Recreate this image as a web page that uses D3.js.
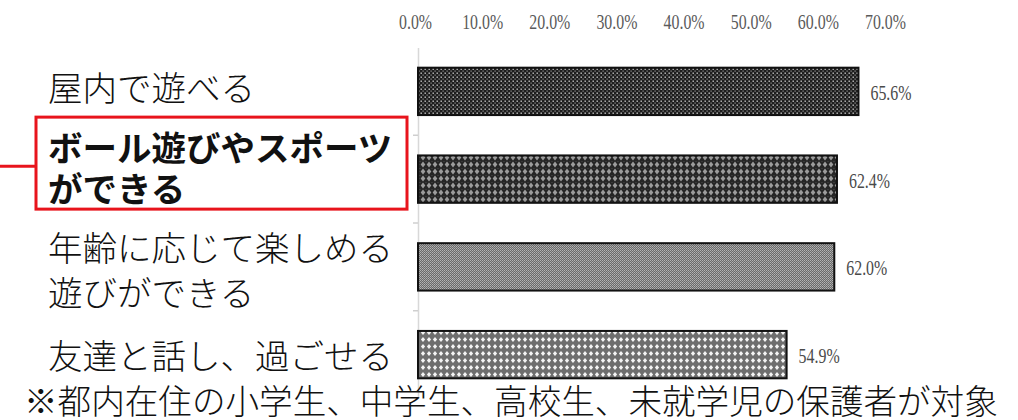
<!DOCTYPE html>
<html><head><meta charset="utf-8">
<script src="https://cdn.jsdelivr.net/npm/d3@7"></script>
<style>html,body{margin:0;padding:0;background:#fff;}svg{display:block;}</style>
</head><body>
<svg id="chart" width="1018" height="420"></svg>
<script>
const categories = ["屋内で遊べる", "ボール遊びやスポーツができる", "年齢に応じて楽しめる遊びができる", "友達と話し、過ごせる"];
const labelLines = [["屋内で遊べる"], ["ボール遊びやスポーツ", "ができる"], ["年齢に応じて楽しめる", "遊びができる"], ["友達と話し、過ごせる"]];
const values = [65.6, 62.4, 62.0, 54.9];
const tickValues = [0, 10, 20, 30, 40, 50, 60, 70];
const tickLabels = ["0.0%", "10.0%", "20.0%", "30.0%", "40.0%", "50.0%", "60.0%", "70.0%"];
const footnote = "※都内在住の小学生、中学生、高校生、未就学児の保護者が対象";
const highlighted = "ボール遊びやスポーツができる";

const svg = d3.select("#chart");
const defs = svg.append("defs");

function pat(id, w, h, bg, draw) {
  const p = defs.append("pattern").attr("id", id).attr("patternUnits", "userSpaceOnUse")
    .attr("width", w).attr("height", h);
  p.append("rect").attr("width", w).attr("height", h).attr("fill", bg);
  draw(p);
}
pat("p0", 4, 4, "#1e1e1e", p => {
  p.append("rect").attr("x", 0.5).attr("y", 0.5).attr("width", 1.4).attr("height", 1.4).attr("fill", "#c8c8c8");
  p.append("rect").attr("x", 2.5).attr("y", 2.5).attr("width", 1.2).attr("height", 1.2).attr("fill", "#9a9a9a");
});
pat("p1", 6, 7, "#262626", p => {
  p.append("path").attr("d", "M3,0.6 L5.3,3.5 L3,6.4 L0.7,3.5 Z").attr("fill", "#9c9c9c");
  p.append("path").attr("d", "M0,0 L0.6,0 L0,0.8 Z M6,0 L5.4,0 L6,0.8 Z").attr("fill", "#777");
});
pat("p2", 2, 2, "#6a6a6a", p => {
  p.append("rect").attr("x", 0).attr("y", 0).attr("width", 1).attr("height", 1).attr("fill", "#b4b4b4");
  p.append("rect").attr("x", 1).attr("y", 1).attr("width", 1).attr("height", 1).attr("fill", "#a0a0a0");
});
pat("p3", 6, 7, "#6e6e6e", p => {
  p.append("path").attr("d", "M3,0.9 L5.1,3.5 L3,6.1 L0.9,3.5 Z").attr("fill", "#f4f4f4");
});
const fills = ["url(#p0)", "url(#p1)", "url(#p2)", "url(#p3)"];

const x = d3.scaleLinear().domain([0, 70]).range([418, 888]);
const y = d3.scaleBand().domain(categories).range([47.5, 398.5]).paddingInner(0.46).paddingOuter(0.23);

const xAxis = d3.axisTop(x).tickValues(tickValues).tickSize(0).tickFormat((d, i) => tickLabels[i]);
const gx = svg.append("g").attr("transform", "translate(-3,32)").call(xAxis);
gx.select(".domain").remove();
gx.selectAll("text")
  .attr("font-family", "'Liberation Serif', 'DejaVu Serif', serif")
  .attr("font-size", 22).attr("fill", "#5a5a5a")
  .attr("textLength", d => d === 0 ? 33 : 41)
  .attr("lengthAdjust", "spacingAndGlyphs");

const gy = svg.append("g").attr("transform", "translate(418,0)")
  .call(d3.axisLeft(y).tickSize(0).tickFormat(""));
gy.select(".domain").attr("stroke", "#d8d8d8").attr("stroke-width", 1.5);
const bounds = categories.slice(1).map(c => y(c) - y.step() * y.paddingInner() / 2);
gy.selectAll(".btick").data(bounds).enter().append("line").attr("class", "btick")
  .attr("x1", -5).attr("x2", 0).attr("y1", d => d).attr("y2", d => d)
  .attr("stroke", "#cfcfcf").attr("stroke-width", 1.5);

svg.append("g").selectAll("rect").data(values).enter().append("rect")
  .attr("x", x(0))
  .attr("y", (d, i) => y(categories[i]))
  .attr("width", d => x(d) - x(0))
  .attr("height", y.bandwidth())
  .attr("fill", (d, i) => fills[i])
  .attr("stroke", "#111").attr("stroke-width", 2);

svg.append("g").selectAll("text").data(values).enter().append("text")
  .attr("x", d => x(d) + 12)
  .attr("y", (d, i) => y(categories[i]) + y.bandwidth() / 2 + 1)
  .attr("dominant-baseline", "central")
  .attr("font-family", "'Liberation Serif', 'DejaVu Serif', serif")
  .attr("font-size", 22).attr("fill", "#4a4a4a")
  .attr("textLength", 41).attr("lengthAdjust", "spacingAndGlyphs")
  .text(d => d.toFixed(1) + "%");

const lineOffsets = [[-5], [-33, 8], [-21, 24], [-1]];
const cg = svg.append("g");
categories.forEach((c, i) => {
  const cy = y(c) + y.bandwidth() / 2;
  labelLines[i].forEach((t, j) => {
    cg.append("text").attr("x", 48).attr("y", cy + lineOffsets[i][j])
      .attr("dominant-baseline", "central")
      .attr("font-family", "'Noto Sans CJK JP', sans-serif")
      .attr("font-size", 34.5)
      .attr("font-weight", c === highlighted ? 700 : 300)
      .attr("fill", "#111")
      .text(t);
  });
});

const hy = y(highlighted) + y.bandwidth() / 2;
svg.append("rect").attr("x", 36).attr("y", hy - 62).attr("width", 371).attr("height", 92)
  .attr("fill", "none").attr("stroke", "#e8141c").attr("stroke-width", 3);
svg.append("line").attr("x1", 0).attr("x2", 36).attr("y1", hy - 13).attr("y2", hy - 13)
  .attr("stroke", "#e8141c").attr("stroke-width", 3);

svg.append("text").attr("x", 24).attr("y", 399).attr("dominant-baseline", "central")
  .attr("font-family", "'Noto Sans CJK JP', sans-serif").attr("font-size", 33.6)
  .attr("font-weight", 300).attr("fill", "#111").text(footnote);
</script>
</body></html>
